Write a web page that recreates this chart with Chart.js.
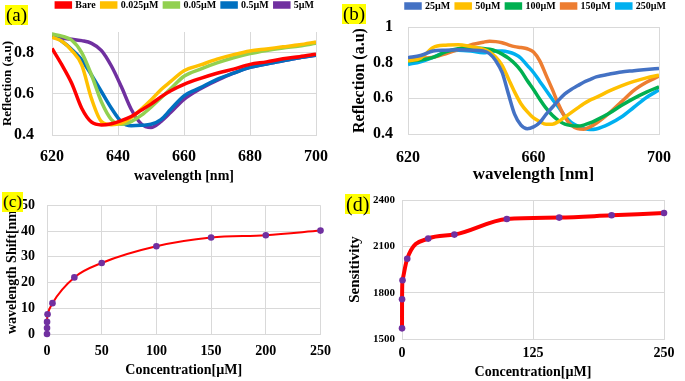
<!DOCTYPE html>
<html>
<head>
<meta charset="utf-8">
<script src="https://cdn.jsdelivr.net/npm/chart.js@4.4.0/dist/chart.umd.min.js"></script>
<style>
  body { margin: 0; background: #fff; }
  #wrap { position: relative; width: 685px; height: 381px; overflow: hidden; }
  #wrap canvas { position: absolute; }
  .tag { position: absolute; background: #ffff00; font-family: 'Liberation Serif', 'Times New Roman', serif; line-height: 20px; padding: 0 1px; color: #000; }
</style>
</head>
<body>
<div id="wrap">
  <canvas id="chartA" width="340" height="185" style="left:0;top:0"></canvas>
  <canvas id="chartB" width="345" height="185" style="left:340px;top:0"></canvas>
  <canvas id="chartC" width="340" height="196" style="left:0;top:185px"></canvas>
  <canvas id="chartD" width="345" height="196" style="left:340px;top:185px"></canvas>
  <div class="tag" style="left:5px;top:5px;font-size:19px">(a)</div>
  <div class="tag" style="left:342px;top:4px;font-size:19px">(b)</div>
  <div class="tag" style="left:2px;top:192px;font-size:17px">(c)</div>
  <div class="tag" style="left:345px;top:194px;font-size:20px">(d)</div>
</div>
<script>
// (a) reflection spectra, low concentrations
var wlA = [620,623,626,629,632,635,638,641,644,647,650,653,656,660,665,670,675,680,685,690,695,700];
var bare   = [.82,.74,.65,.53,.462,.449,.455,.47,.49,.52,.55,.585,.615,.646,.675,.70,.72,.743,.755,.77,.78,.792];
var uM0025 = [.875,.855,.81,.74,.575,.465,.45,.458,.485,.525,.57,.62,.66,.712,.74,.768,.79,.808,.818,.828,.838,.852];
var uM005  = [.89,.88,.86,.80,.69,.56,.475,.452,.465,.495,.535,.58,.625,.685,.72,.75,.775,.795,.81,.822,.832,.845];
var uM05   = [.885,.855,.815,.765,.69,.61,.53,.465,.445,.447,.452,.475,.525,.59,.63,.67,.70,.728,.745,.76,.775,.787];
var uM5    = [.875,.87,.865,.858,.845,.81,.735,.635,.525,.455,.437,.465,.51,.573,.625,.665,.70,.728,.745,.76,.775,.787];
var labelsA = ["Bare", "0.025µM", "0.05µM", "0.5µM", "5µM"];
var colorsA = ["#ff0000", "#ffc000", "#92d050", "#0070c0", "#7030a0"];
var xTicksA = [620,640,660,680,700];
var yTicksA = [0.4,0.6,0.8];
var yLabelsA = ["0.4","0.6","0.8"];

// (b) reflection spectra, high concentrations
var wlB = [620,624,628,632,636,640,644,646,648,650,652,654,656,658,660,662,664,666,668,670,672,674,676,678,680,684,688,692,696,700];
var uM25  = [.828,.84,.865,.87,.872,.87,.866,.85,.81,.745,.625,.51,.45,.43,.44,.465,.51,.55,.59,.625,.65,.67,.69,.705,.72,.735,.748,.755,.762,.768];
var uM50  = [.81,.825,.885,.898,.90,.89,.875,.86,.83,.785,.71,.635,.57,.525,.49,.47,.455,.455,.47,.495,.52,.545,.57,.59,.605,.64,.67,.695,.715,.73];
var uM100 = [.81,.815,.83,.86,.878,.884,.88,.875,.865,.848,.825,.795,.755,.70,.65,.595,.545,.505,.475,.455,.447,.445,.45,.462,.478,.515,.56,.60,.635,.665];
var uM150 = [.82,.825,.83,.85,.875,.90,.915,.92,.918,.912,.90,.89,.885,.878,.86,.81,.73,.65,.565,.495,.45,.43,.427,.44,.46,.515,.58,.645,.69,.725];
var uM250 = [.79,.805,.83,.86,.87,.865,.855,.86,.865,.865,.86,.848,.825,.785,.745,.695,.645,.595,.55,.50,.465,.445,.432,.425,.428,.455,.495,.55,.605,.647];
var labelsB = ["25µM", "50µM", "100µM", "150µM", "250µM"];
var colorsB = ["#4472c4", "#ffc000", "#00b050", "#ed7d31", "#00b0f0"];
var xTicksB = [620,660,700];
var yTicksB = [0.4,0.6,0.8,1];
var yLabelsB = ["0.4","0.6","0.8","1"];

// (c) wavelength shift vs concentration
var concC = [0,0.025,0.05,0.5,5,25,50,100,150,200,250];
var shiftC = [0,2.3,4.7,7.7,12,22,27.6,34.1,37.5,38.4,40.2];
var xTicksC = [0,50,100,150,200,250];
var yTicksC = [0,10,20,30,40,50];

// (d) sensitivity vs concentration
var concD = [0.025,0.05,0.5,5,25,50,100,150,200,250];
var sensD = [1569,1757,1880,2020,2150,2176,2277,2286,2301,2316];
var xTicksD = [0,125,250];
var yTicksD = [1500,1800,2100,2400];

Chart.defaults.font.family = "'Liberation Serif', 'Times New Roman', serif";
Chart.defaults.color = "#000";

var gridColor = "#d9d9d9";

function pts(xs, ys) {
  return xs.map(function(x, i) { return {x: x, y: ys[i]}; });
}
function fixW(w) { return function(scale) { scale.width = w; }; }
function fixH(h) { return function(scale) { scale.height = h; }; }
function setTicks(list) {
  return function(scale) { scale.ticks = list.map(function(v) { return {value: v}; }); };
}
// force the legend height so the plot area lands where it should
function legendBox(h) {
  return {
    id: "legendBox",
    afterInit: function(chart) {
      var fit = chart.legend.fit;
      chart.legend.fit = function() { fit.call(this); this.height = h; };
    }
  };
}

function spectra(id, wl, series, labels, colors, opt) {
  new Chart(id, {
    type: "line",
    data: {
      datasets: series.map(function(s, i) {
        return {
          label: labels[i],
          data: pts(wl, s),
          borderColor: colors[i],
          backgroundColor: colors[i],
          borderWidth: 3.5,
          pointRadius: 0,
          cubicInterpolationMode: "monotone"
        };
      })
    },
    options: {
      responsive: false,
      animation: false,
      devicePixelRatio: 1,
      layout: { padding: opt.pad },
      plugins: {
        legend: {
          position: "top",
          align: "end",
          labels: { boxWidth: 14, boxHeight: 4, padding: 6, font: { size: 10, weight: "bold" } }
        },
        tooltip: { enabled: false }
      },
      scales: {
        x: {
          type: "linear", min: 620, max: 700,
          afterBuildTicks: setTicks(opt.xTicks),
          ticks: { padding: opt.xPad, font: { size: opt.tickSize, weight: "bold" } },
          grid: { color: gridColor, drawTicks: false },
          border: { color: gridColor },
          title: { display: true, text: "wavelength [nm]", padding: 0, font: { size: opt.xTitleSize, weight: "bold" } },
          afterFit: fixH(opt.xH)
        },
        y: {
          min: 0.4, max: opt.yMax,
          afterBuildTicks: setTicks(opt.yTicks),
          ticks: {
            padding: opt.yPad,
            font: { size: opt.tickSize, weight: "bold" },
            callback: function(v, i) { return opt.yLabels[i]; }
          },
          grid: { color: gridColor, drawTicks: false },
          border: { color: gridColor },
          title: { display: true, text: "Reflection (a.u)", padding: 0, font: { size: opt.yTitleSize, weight: "bold" } },
          afterFit: fixW(opt.yW)
        }
      }
    },
    plugins: [legendBox(opt.legendH)]
  });
}

function concChart(id, xs, ys, opt) {
  new Chart(id, {
    type: "line",
    data: {
      datasets: [{
        data: pts(xs, ys),
        borderColor: "#ff0000",
        backgroundColor: "#7030a0",
        borderWidth: opt.lineW,
        pointRadius: 3.3,
        pointBorderWidth: 0,
        pointBackgroundColor: "#7030a0",
        cubicInterpolationMode: "monotone",
        clip: false
      }]
    },
    options: {
      responsive: false,
      animation: false,
      devicePixelRatio: 1,
      layout: { padding: opt.pad },
      plugins: { legend: { display: false }, tooltip: { enabled: false } },
      scales: {
        x: {
          type: "linear", min: 0, max: 250,
          afterBuildTicks: setTicks(opt.xTicks),
          ticks: { padding: opt.xPad, font: { size: opt.xTickSize, weight: "bold" } },
          grid: { color: gridColor, drawTicks: false },
          border: { color: gridColor },
          title: { display: true, text: "Concentration[µM]", padding: 0, font: { size: 14, weight: "bold" } },
          afterFit: fixH(opt.xH)
        },
        y: {
          min: opt.yTicks[0], max: opt.yTicks[opt.yTicks.length - 1],
          afterBuildTicks: setTicks(opt.yTicks),
          ticks: {
            padding: opt.yPad,
            font: { size: opt.yTickSize, weight: "bold" },
            callback: function(v) { return String(v); }
          },
          grid: { color: gridColor, drawTicks: false },
          border: { color: gridColor },
          title: { display: true, text: opt.yTitle, padding: 0, font: { size: opt.yTitleSize, weight: "bold" } },
          afterFit: fixW(opt.yW)
        }
      }
    }
  });
}

spectra("chartA", wlA, [bare, uM0025, uM005, uM05, uM5], labelsA, colorsA, {
  pad: { left: 0, right: 20, top: -6, bottom: 0 },
  xTicks: xTicksA, yTicks: yTicksA, yLabels: yLabelsA, yMax: 0.9,
  tickSize: 16, xTitleSize: 14, yTitleSize: 13,
  xPad: 12, yPad: 18, xH: 50, yW: 52, legendH: 38
});

spectra("chartB", wlB, [uM25, uM50, uM100, uM150, uM250], labelsB, colorsB, {
  pad: { left: 10, right: 13, top: -5, bottom: 0 },
  xTicks: xTicksB, yTicks: yTicksB, yLabels: yLabelsB, yMax: 1,
  tickSize: 16, xTitleSize: 17, yTitleSize: 16,
  xPad: 14, yPad: 15, xH: 51, yW: 58, legendH: 32
});

concChart("chartC", concC, shiftC, {
  pad: { left: 4, right: 18, top: 15, bottom: 2 },
  xTicks: xTicksC, yTicks: yTicksC, lineW: 2,
  xTickSize: 14, yTickSize: 14, yTitle: "wavelength Shift[nm]", yTitleSize: 14,
  xPad: 9, yPad: 12, xH: 45, yW: 43
});

concChart("chartD", concD, sensD, {
  pad: { left: 6, right: 21, top: 15, bottom: 0 },
  xTicks: xTicksD, yTicks: yTicksD, lineW: 4,
  xTickSize: 14, yTickSize: 11, yTitle: "Sensitivity", yTitleSize: 15,
  xPad: 6, yPad: 7, xH: 42, yW: 56
});
</script>
</body>
</html>
